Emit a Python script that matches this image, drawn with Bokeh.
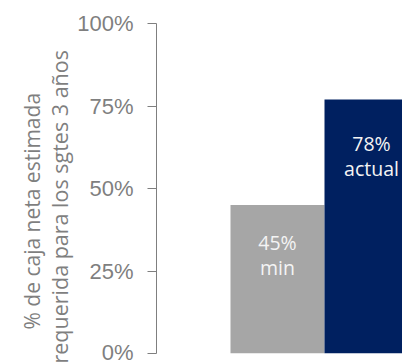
import math
from bokeh.plotting import figure
from bokeh.models import Range1d, NumeralTickFormatter, FixedTicker, Title, ColumnDataSource
from bokeh.core.properties import value
from bokeh.embed import file_html
from bokeh.resources import INLINE

# data
categories = ["min", "actual"]
values = [0.45, 0.77]
value_labels = ["45%", "78%"]
bar_colors = ["#a6a6a6", "#002060"]
y_ticks = [0, 0.25, 0.5, 0.75, 1.0]
y_title = ["% de caja neta estimada", "requerida para los sgtes 3 años"]

xs = list(range(len(categories)))
src = ColumnDataSource(dict(x=xs, top=values, color=bar_colors,
                            pct=value_labels, name=categories,
                            off1=[37, 44], off2=[62, 69]))

x0 = -0.5 - 74 / 94
p = figure(width=402, height=364, output_backend="svg", toolbar_location=None,
           x_range=Range1d(x0, x0 + 246 / 94), y_range=Range1d(0, 1),
           min_border_left=156, min_border_right=0, min_border_top=23,
           min_border_bottom=11)
p.outline_line_color = None
p.grid.visible = False
p.xaxis.visible = False
p.background_fill_color = "white"
p.border_fill_color = "white"

p.vbar(x="x", top="top", bottom=0, width=1.0, color="color", line_color=None, source=src)

p.text(x="x", y="top", text="pct", y_offset="off1", source=src,
       text_align="center", text_baseline="middle", text_color="#f4f4f4",
       text_font=value("Open Sans"), text_font_size="19.5px")
p.text(x="x", y="top", text="name", y_offset="off2", source=src,
       text_align="center", text_baseline="middle", text_color="#f4f4f4",
       text_font=value("Open Sans"), text_font_size="19.5px")

ax = p.yaxis[0]
ax.ticker = FixedTicker(ticks=y_ticks)
ax.formatter = NumeralTickFormatter(format="0%")
ax.major_tick_out = 9
ax.major_tick_in = 0
ax.minor_tick_line_color = None
ax.axis_line_color = "#7f7f7f"
ax.major_tick_line_color = "#7f7f7f"
ax.major_label_text_color = "#7f7f7f"
ax.major_label_text_font = "Liberation Sans"
ax.major_label_text_font_size = "22px"
ax.major_label_standoff = 14

# inner line first, then outer line
for txt, off, so, fs in [(y_title[1], -10, 2, "21.5px"), (y_title[0], 24, -8, "21px")]:
    p.add_layout(Title(text=txt, align="left", offset=off, standoff=so,
                       text_color="#7f7f7f", text_font="Open Sans",
                       text_font_size=fs, text_font_style="normal"), "left")

open("out.html", "w").write(file_html(p, INLINE))
